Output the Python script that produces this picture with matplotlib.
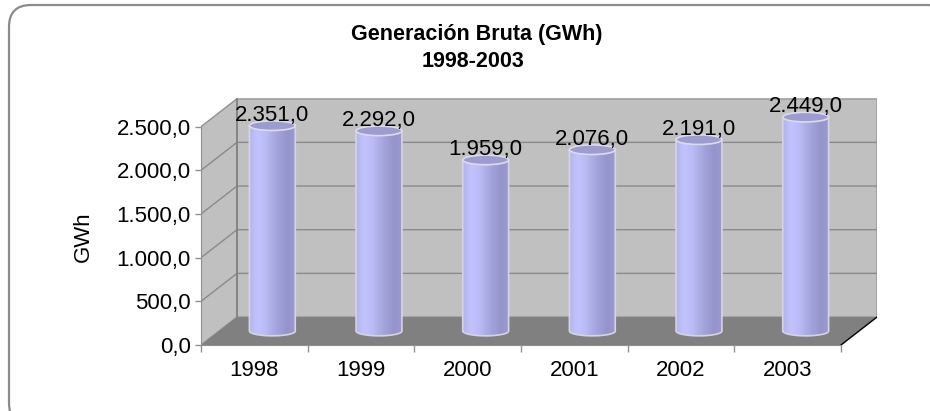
import numpy as np
import matplotlib
matplotlib.use("Agg")
import matplotlib.pyplot as plt
from matplotlib.patches import Polygon, Ellipse, FancyBboxPatch, PathPatch
from matplotlib.path import Path
from matplotlib.colors import LinearSegmentedColormap

plt.rcParams["font.family"] = ["Liberation Sans", "DejaVu Sans"]

# data
years = ["1998", "1999", "2000", "2001", "2002", "2003"]
gwh = [2351.0, 2292.0, 1959.0, 2076.0, 2191.0, 2449.0]
y_ticks = [0, 500, 1000, 1500, 2000, 2500]
title_1 = "Generación Bruta (GWh)"
title_2 = "1998-2003"
y_label = "GWh"

# fake-3D geometry (category units / value units)
DX = 0.3375
DY = 320.0
YTOP = y_ticks[-1]
HALF_W = 0.215
ELL_H = 110.0


def es_fmt(v):
    s = f"{v:,.1f}"
    return s.replace(",", "#").replace(".", ",").replace("#", ".")


W, H = 930, 411
fig = plt.figure(figsize=(W / 100, H / 100), dpi=100)
fig.patch.set_facecolor("white")

# rounded outer frame
bg = fig.add_axes([0, 0, 1, 1], zorder=0)
bg.set_xlim(0, W)
bg.set_ylim(H, 0)
bg.set_axis_off()
bg.add_patch(FancyBboxPatch((9, 5), 940, 420,
                            boxstyle="round,pad=0,rounding_size=22",
                            facecolor="white", edgecolor="#8c8c8c", lw=1.6))

ax = fig.add_axes([201 / W, (H - 345) / H, (877 - 201) / W, (345 - 98) / H],
                  zorder=1)
ax.patch.set_visible(False)
n = len(years)
ax.set_xlim(0, n + DX)
ax.set_ylim(0, YTOP + DY + 8)

# walls and floor
wall_c = "#c0c0c0"
ax.add_patch(Polygon([(0, 0), (DX, DY), (DX, YTOP + DY), (0, YTOP)],
                     closed=True, facecolor=wall_c, edgecolor="#909090",
                     lw=1.0, zorder=1))
ax.add_patch(Polygon([(DX, DY), (n + DX, DY), (n + DX, YTOP + DY),
                      (DX, YTOP + DY)],
                     closed=True, facecolor=wall_c, edgecolor="#a0a0a0",
                     lw=1.2, zorder=1))
ax.add_patch(Polygon([(0, 0), (n, 0), (n + DX, DY), (DX, DY)],
                     closed=True, facecolor="#808080", edgecolor="none",
                     zorder=2))
ax.plot([n, n + DX], [0, DY], color="black", lw=1.0, zorder=3)
ax.plot([DX, DX], [DY, YTOP + DY], color="#808080", lw=1.2, zorder=2)

for v in y_ticks[1:-1]:
    ax.plot([0, DX, n + DX], [v, v + DY, v + DY], color="#8a8a8a",
            lw=1.0, zorder=1.5)

# cylinders
cyl_cmap = LinearSegmentedColormap.from_list(
    "cyl", ["#b4b4ec", "#c2c2ff", "#bcbcf8", "#aeaee6",
            "#a0a0d8", "#9595cc", "#9a9ad0"])
grad = np.linspace(0, 1, 64).reshape(1, -1)
t = np.linspace(np.pi, 2 * np.pi, 40)

for i, (yr, val) in enumerate(zip(years, gwh)):
    cx = i + 0.5 + DX / 2
    base = DY / 2
    top = base + val
    xs = cx + HALF_W * np.cos(t)
    ys = base + (ELL_H / 2) * np.sin(t)
    verts = ([(cx - HALF_W, top)] + list(zip(xs, ys)) +
             [(cx + HALF_W, top), (cx - HALF_W, top)])
    body = Path(verts, closed=True)
    outline = PathPatch(body, facecolor="none", edgecolor="#d4d4e4",
                        lw=1.2, zorder=5)
    ax.add_patch(outline)
    im = ax.imshow(grad, cmap=cyl_cmap, aspect="auto",
                   extent=[cx - HALF_W, cx + HALF_W, base - ELL_H, top],
                   interpolation="bilinear", zorder=4)
    im.set_clip_path(PathPatch(body, transform=ax.transData))
    ax.add_patch(Ellipse((cx, top), 2 * HALF_W, ELL_H,
                         facecolor="#9c9cd2", edgecolor="#dcdce8",
                         lw=1.2, zorder=6))
    ax.text(cx, top + 55, es_fmt(val), ha="center", va="baseline",
            fontsize=16, color="black", zorder=7)

# axes, ticks, labels
for s in ["top", "right"]:
    ax.spines[s].set_visible(False)
ax.spines["left"].set_bounds(0, YTOP)
ax.spines["bottom"].set_bounds(0, n)
ax.spines["left"].set_color("#909090")
ax.spines["bottom"].set_color("#909090")
ax.spines["left"].set_zorder(3)
ax.spines["bottom"].set_zorder(3)

ax.set_yticks(y_ticks)
ax.set_yticklabels([es_fmt(v) for v in y_ticks], fontsize=16)
ax.tick_params(axis="y", length=4, width=1, color="#909090", pad=3.5)

ax.set_xticks(np.arange(n + 1))
ax.set_xticklabels([])
ax.set_xticks(np.arange(n) + 0.5, minor=True)
ax.set_xticklabels(years, minor=True, fontsize=16)
ax.tick_params(axis="x", which="major", length=5, width=1, color="#909090")
ax.tick_params(axis="x", which="minor", length=0, pad=10.5)

fig.text(83 / W, 1 - 237 / H, y_label, rotation=90, ha="center",
         va="center", fontsize=16)

fig.text(477 / W, 1 - 40 / H, title_1, ha="center", va="baseline",
         fontsize=15.5, fontweight="bold")
fig.text(473 / W, 1 - 67 / H, title_2, ha="center", va="baseline",
         fontsize=15.5, fontweight="bold")

fig.savefig("out.png", dpi=100, facecolor="white")
